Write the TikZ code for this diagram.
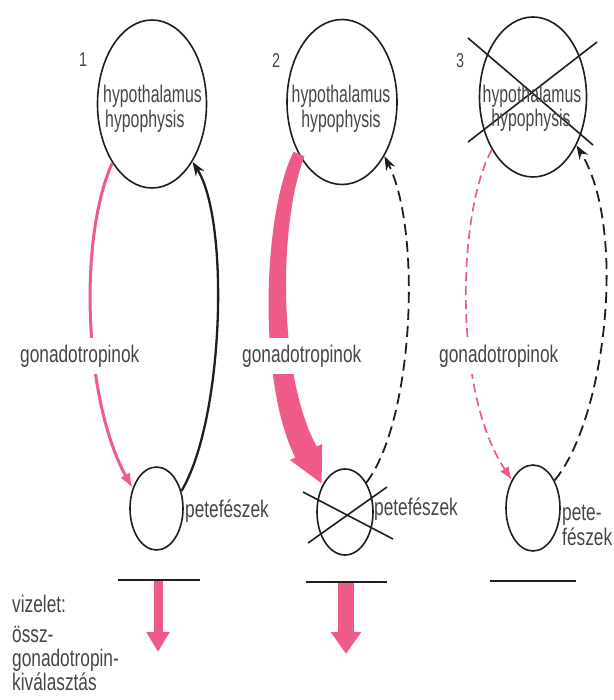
\documentclass[tikz,border=0pt]{standalone}
\usepackage{fontspec}
\setmainfont[FakeStretch=0.72]{Liberation Sans}
\newfontfamily\ellfont[FakeStretch=0.66]{Liberation Sans}
\usetikzlibrary{arrows.meta,shapes.geometric}
\definecolor{pk}{RGB}{239,91,135}
\definecolor{ink}{RGB}{30,30,30}
\definecolor{txt}{RGB}{70,70,70}
\tikzset{
  organ/.style={draw=ink, line width=1.6pt, ellipse, inner sep=0pt},
  lbl/.style={text=txt, inner sep=0pt, anchor=base west, font=\fontsize{24}{26}\selectfont},
  elbl/.style={text=txt, inner sep=0pt, anchor=base, font=\ellfont\fontsize{24}{26}\selectfont},
  numlbl/.style={text=txt, inner sep=0pt, anchor=base west, font=\fontsize{20}{22}\selectfont},
  gaplbl/.style={lbl, fill=white, inner xsep=1pt, inner ysep=7pt},
  pkline/.style={draw=pk, line width=3pt, -{Latex[length=15pt,width=11pt]}},
  pkdash/.style={draw=pk, line width=1.7pt, dash pattern=on 9pt off 5pt, -{Latex[length=13pt,width=10pt]}},
  blkline/.style={draw=ink, line width=2.3pt, -{Stealth[length=14pt,width=10pt]}},
  blkdash/.style={draw=ink, line width=1.8pt, dash pattern=on 11pt off 6pt, -{Stealth[length=14pt,width=10pt]}},
  baseline/.style={draw=ink, line width=2pt},
  cross/.style={draw=ink, line width=1.6pt},
}
\begin{document}
\begin{tikzpicture}[x=1pt,y=-1pt]
\useasboundingbox (0,0) rectangle (613,700);
% organs
\node[organ, minimum width=109pt, minimum height=168pt] (b1) at (152,104) {};
\node[organ, minimum width=110pt, minimum height=165pt] (b2) at (342,102) {};
\node[organ, minimum width=107pt, minimum height=160pt] (b3) at (533,97) {};
\node[organ, minimum width=53pt, minimum height=83pt] (s1) at (156.5,508.5) {};
\node[organ, minimum width=56pt, minimum height=86pt] (s2) at (345,512) {};
\node[organ, minimum width=54pt, minimum height=86pt] (s3) at (533,508) {};

% panel 1 connectors
\draw[pkline] (b1.236) .. controls (78,240) and (84,400) .. (s1.140);
\draw[blkline] (s1.35) .. controls (224,420) and (230,220) .. (b1.305);

% panel 2 connectors
\fill[pk] (293.5,151.7) .. controls (261.7,216.6) and (258.2,384.9) .. (295.3,457.4)
  -- (289.9,460) -- (321.6,483.3) -- (322.1,444) -- (316.7,446.6)
  .. controls (277.8,375.1) and (278.3,223.4) .. (304.5,156.3) -- cycle;
\draw[blkdash] (s2.54) .. controls (414,420) and (422,230) .. (b2.308);

% panel 3 connectors
\draw[pkdash] (b3.232) .. controls (458,210) and (452,390) .. (s3.127);
\draw[blkdash] (s3.52) .. controls (605,420) and (628,230) .. (b3.312);

% crosses
\draw[cross] (468,38) -- (593,145);
\draw[cross] (597,42) -- (468,142);
\draw[cross] (303,492) -- (393,539);
\draw[cross] (387,487) -- (308,543);

% urine outputs
\coordinate (h1l) at (118,580); \coordinate (h1r) at (200,580);
\coordinate (h1m) at (158,580); \coordinate (d1) at (158,652);
\coordinate (h2l) at (306,582); \coordinate (h2r) at (387,582);
\coordinate (h2m) at (346,582); \coordinate (d2) at (346,654);
\coordinate (h3l) at (490,581); \coordinate (h3r) at (576,581);
\draw[pk, line width=9pt, -{Triangle[length=20pt,width=22pt]}] (h1m) -- (d1);
\draw[pk, line width=16pt, -{Triangle[length=22pt,width=29pt]}] (h2m) -- (d2);
\draw[baseline] (h1l) -- (h1r);
\draw[baseline] (h2l) -- (h2r);
\draw[baseline] (h3l) -- (h3r);

% labels
\node[numlbl] (n1) at (79,67) {1};
\node[numlbl] (n2) at (272,68) {2};
\node[numlbl] (n3) at (456,68) {3};

\node[elbl, anchor=base west] (t1a) at (103,103) {hypothalamus};
\node[elbl, anchor=base west] (t1b) at (105,128) {hypophysis};
\node[elbl] (t2a) at (341,103) {hypothalamus};
\node[elbl] (t2b) at (341,128) {hypophysis};
\node[elbl] (t3a) at (532,103) {hypothalamus};
\node[elbl] (t3b) at (531,127) {hypophysis};

\node[gaplbl] (g1) at (19,362) {gonadotropinok};
\node[gaplbl] (g2) at (241,362) {gonadotropinok};
\node[gaplbl] (g3) at (438,362) {gonadotropinok};

\node[lbl] (p1) at (185,517) {petefészek};
\node[lbl] (p2) at (374,515) {petefészek};
\node[lbl] (p3a) at (562,520) {pete-};
\node[lbl] (p3b) at (562,545) {fészek};

\node[lbl] (v1) at (12,612) {vizelet:};
\node[lbl] (v2) at (12,642) {össz-};
\node[lbl] (v3) at (12,666) {gonadotropin-};
\node[lbl] (v4) at (12,690) {kiválasztás};
\end{tikzpicture}
\end{document}
